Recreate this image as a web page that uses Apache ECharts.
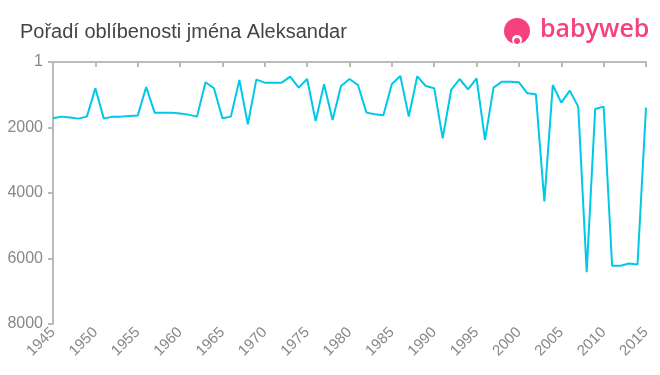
<!DOCTYPE html>
<html>
<head>
<meta charset="utf-8">
<script src="https://cdn.jsdelivr.net/npm/echarts@6/dist/echarts.min.js"></script>
<style>html,body{margin:0;padding:0;background:#fff}#c{width:660px;height:375px}</style>
</head>
<body>
<div id="c"></div>
<script>
var titleText = 'Pořadí oblíbenosti jména Aleksandar';
var years = [];
for (var y = 1945; y <= 2015; y++) years.push(y);
var ranks = [
1717,1668,1698,1729,1668,803,1729,1668,1668,1647,
1637,763,1546,1546,1546,1576,1607,1668,620,803,
1718,1668,549,1901,539,630,630,630,447,783,
519,1800,681,1769,732,519,702,1546,1596,1627,
671,427,1668,437,732,803,2328,854,519,834,
498,2379,783,600,600,620,956,986,4260,702,
1240,874,1362,6415,1433,1362,6222,6222,6151,6182,
1393];
var yTicks = [0, 2000, 4000, 6000, 8000];

var data = years.map(function (yr, i) { return [yr, ranks[i]]; });

var chart = echarts.init(document.getElementById('c'));
chart.setOption({
  animation: false,
  backgroundColor: '#fff',
  title: {
    text: titleText,
    left: 15, top: 17,
    textStyle: { fontFamily: 'Liberation Sans, Arial, sans-serif', fontSize: 20, fontWeight: 'normal', color: '#444' }
  },
  graphic: [
    { type: 'circle', shape: { cx: 517, cy: 31, r: 13 }, style: { fill: '#f5427d' } },
    { type: 'circle', shape: { cx: 517, cy: 40, r: 5 }, style: { fill: '#fff' } },
    { type: 'circle', shape: { cx: 517, cy: 41, r: 3 }, style: { fill: '#f5427d' } },
    { type: 'text', left: 540, top: 17, style: { text: 'babyweb', fill: '#f5427d', font: '600 25px "Open Sans", sans-serif' } }
  ],
  grid: { left: 53, right: 14, top: 62, bottom: 51 },
  xAxis: {
    type: 'value', min: 1945, max: 2015, interval: 5,
    axisLine: { lineStyle: { color: '#bbb', width: 2 } },
    axisTick: { lineStyle: { color: '#bbb', width: 2 }, length: 5 },
    splitLine: { show: false },
    axisLabel: { rotate: 45, color: '#888', fontSize: 15, fontFamily: 'Liberation Sans, Arial, sans-serif', margin: 6,
      formatter: function (v) { return String(v); } }
  },
  yAxis: {
    type: 'value', inverse: true, min: 0, max: 8000, interval: 2000,
    axisLine: { show: true, lineStyle: { color: '#bbb', width: 2 } },
    axisTick: { show: true, lineStyle: { color: '#bbb', width: 2 }, length: 5 },
    splitLine: { show: false },
    axisLabel: { color: '#888', fontSize: 16, fontFamily: 'Liberation Sans, Arial, sans-serif', margin: 10,
      formatter: function (v) { return v === 0 ? '1' : String(v); } }
  },
  series: [{
    type: 'line', data: data, symbol: 'none',
    lineStyle: { color: '#00c8e6', width: 2 }
  }]
});
</script>
</body>
</html>
